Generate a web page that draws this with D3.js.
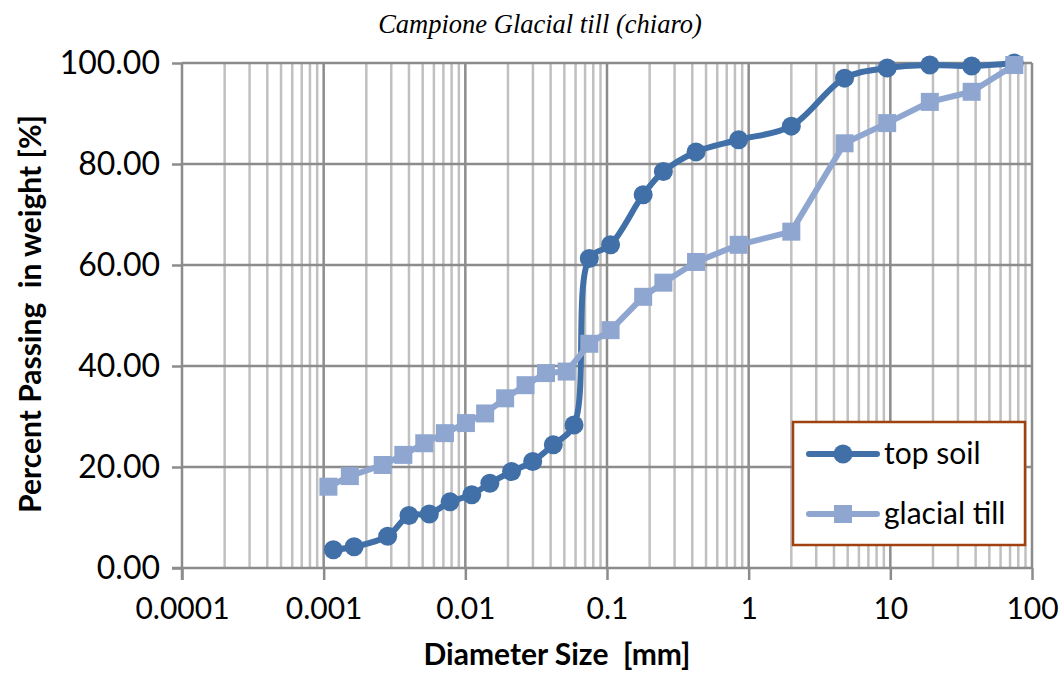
<!DOCTYPE html>
<html>
<head>
<meta charset="utf-8">
<script src="https://cdn.jsdelivr.net/npm/d3@7"></script>
<style>
  body { margin: 0; background: #fff; }
  svg { display: block; }
  .tick-label { font-family: Lato, "Open Sans", sans-serif; fill: #000; }
</style>
</head>
<body>
<div id="chart"></div>
<script>
// sieve / hydrometer diameters [mm]
const topSoilDiam = [0.00117, 0.00164, 0.00283, 0.0040, 0.00557, 0.0078, 0.0111, 0.0149, 0.0212, 0.0299, 0.0418, 0.0585,
    0.075, 0.106, 0.18, 0.25, 0.425, 0.85, 2.0, 4.75, 9.5, 19, 37.5, 75];
const topSoilPass = [3.6, 4.2, 6.3, 10.4, 10.7, 13.1, 14.5, 16.8, 19.1, 21.1, 24.4, 28.3,
    61.3, 64.0, 73.9, 78.5, 82.4, 84.8, 87.5, 97.0, 99.0, 99.6, 99.4, 100];

const tillDiam = [0.00108, 0.00153, 0.00261, 0.00365, 0.00513, 0.00718, 0.0101, 0.0138, 0.0191, 0.0266, 0.0371, 0.0519,
    0.075, 0.106, 0.18, 0.25, 0.425, 0.85, 2.0, 4.75, 9.5, 19, 37.5, 75];
const tillPass = [16.1, 18.2, 20.4, 22.4, 24.7, 26.7, 28.7, 30.6, 33.6, 36.2, 38.6, 38.9,
    44.4, 47.1, 53.7, 56.5, 60.6, 64.0, 66.6, 84.1, 88.1, 92.3, 94.3, 99.6];

const xTicks = [0.0001, 0.001, 0.01, 0.1, 1, 10, 100];
const xTickLabels = ["0.0001", "0.001", "0.01", "0.1", "1", "10", "100"];
const yTicks = [0, 20, 40, 60, 80, 100];
const yTickLabels = ["0.00", "20.00", "40.00", "60.00", "80.00", "100.00"];

const seriesNames = ["top soil", "glacial till"];

const W = 1062, H = 674;
const colors = { top: "#4170a8", till: "#8fa7d0", major: "#8c8c8c", minor: "#c0c0c0", legendBorder: "#a0420f" };

const svg = d3.select("#chart").append("svg").attr("width", W).attr("height", H);

const x = d3.scaleLog().domain([0.0001, 100]).range([182, 1032]);
const y = d3.scaleLinear().domain([0, 100]).range([568, 63]);

// minor vertical grid
const minor = [];
xTicks.slice(0, -1).forEach(d => { for (let k = 2; k <= 9; k++) minor.push(d * k); });
svg.append("g").selectAll("line").data(minor).join("line")
    .attr("x1", d => x(d)).attr("x2", d => x(d))
    .attr("y1", y(100)).attr("y2", y(0))
    .attr("stroke", colors.minor).attr("stroke-width", 2.5);

// major horizontal grid
svg.append("g").selectAll("line").data(yTicks.slice(1)).join("line")
    .attr("x1", x(0.0001)).attr("x2", x(100))
    .attr("y1", d => y(d)).attr("y2", d => y(d))
    .attr("stroke", colors.major).attr("stroke-width", 2.5);

// major vertical grid
svg.append("g").selectAll("line").data(xTicks.slice(1)).join("line")
    .attr("x1", d => x(d)).attr("x2", d => x(d))
    .attr("y1", y(100)).attr("y2", y(0))
    .attr("stroke", colors.major).attr("stroke-width", 2.5);

// axes
const xAxis = svg.append("g").attr("transform", `translate(0,${y(0)})`)
    .call(d3.axisBottom(x).tickValues(xTicks).tickSize(12).tickPadding(18)
        .tickFormat((d, i) => xTickLabels[i]));
const yAxis = svg.append("g").attr("transform", `translate(${x(0.0001)},0)`)
    .call(d3.axisLeft(y).tickValues(yTicks).tickSize(10).tickPadding(12)
        .tickFormat((d, i) => yTickLabels[i]));

[xAxis, yAxis].forEach(g => {
    g.select(".domain").attr("stroke", colors.major).attr("stroke-width", 2.5);
    g.selectAll(".tick line").attr("stroke", colors.major).attr("stroke-width", 2.5);
    g.selectAll(".tick text").attr("class", "tick-label");
});
xAxis.selectAll(".tick text").style("font-size", "30px");
yAxis.selectAll(".tick text").style("font-size", "32px");
xAxis.select(".domain").attr("d", `M${x(0.0001) - 10},0H${x(100)}`);
yAxis.select(".domain").attr("d", `M0,${y(100)}V${y(0) + 12}`);

// series: top soil smoothed, glacial till straight segments
const lineSmooth = d3.line().x(d => x(d[0])).y(d => y(d[1])).curve(d3.curveCatmullRom.alpha(0.5));
const lineStraight = d3.line().x(d => x(d[0])).y(d => y(d[1]));
const topData = d3.zip(topSoilDiam, topSoilPass);
const tillData = d3.zip(tillDiam, tillPass);

svg.append("path").datum(topData).attr("d", lineSmooth)
    .attr("fill", "none").attr("stroke", colors.top).attr("stroke-width", 6).attr("stroke-linejoin", "round");
svg.append("g").selectAll("circle").data(topData).join("circle")
    .attr("cx", d => x(d[0])).attr("cy", d => y(d[1])).attr("r", 9.5)
    .attr("fill", colors.top);

svg.append("path").datum(tillData).attr("d", lineStraight)
    .attr("fill", "none").attr("stroke", colors.till).attr("stroke-width", 6).attr("stroke-linejoin", "round");
svg.append("g").selectAll("rect").data(tillData).join("rect")
    .attr("x", d => x(d[0]) - 9).attr("y", d => y(d[1]) - 9)
    .attr("width", 18).attr("height", 18)
    .attr("fill", colors.till);

// title and axis titles
svg.append("text").attr("x", 540).attr("y", 33).attr("text-anchor", "middle")
    .style("font-family", "'Liberation Serif', serif").style("font-style", "italic").style("font-size", "26.5px")
    .text("Campione Glacial till (chiaro)");

svg.append("text").attr("x", 557).attr("y", 665).attr("text-anchor", "middle")
    .style("font-family", "Lato, sans-serif").style("font-weight", "bold").style("font-size", "30px")
    .style("white-space", "pre")
    .text("Diameter Size  [mm]");

svg.append("text").attr("transform", "translate(41,314) rotate(-90)").attr("text-anchor", "middle")
    .style("font-family", "Lato, sans-serif").style("font-weight", "bold").style("font-size", "30px")
    .style("white-space", "pre")
    .text("Percent Passing  in weight [%]");

// legend
const legend = svg.append("g").attr("transform", "translate(793,422)");
legend.append("rect").attr("width", 232).attr("height", 123)
    .attr("fill", "#fff").attr("stroke", colors.legendBorder).attr("stroke-width", 2.5);

const legendItems = legend.selectAll(".item").data(seriesNames).join("g")
    .attr("class", "item")
    .attr("transform", (d, i) => `translate(0,${32 + i * 60})`);
legendItems.append("line").attr("x1", 16).attr("x2", 84)
    .attr("stroke", (d, i) => i === 0 ? colors.top : colors.till)
    .attr("stroke-width", 6).attr("stroke-linecap", "round");
legendItems.filter((d, i) => i === 0).append("circle").attr("cx", 50).attr("r", 9.5).attr("fill", colors.top);
legendItems.filter((d, i) => i === 1).append("rect").attr("x", 41).attr("y", -9)
    .attr("width", 18).attr("height", 18).attr("fill", colors.till);
legendItems.append("text").attr("x", 91).attr("y", 10)
    .style("font-family", "Lato, sans-serif").style("font-size", "30px")
    .text(d => d);
</script>
</body>
</html>
